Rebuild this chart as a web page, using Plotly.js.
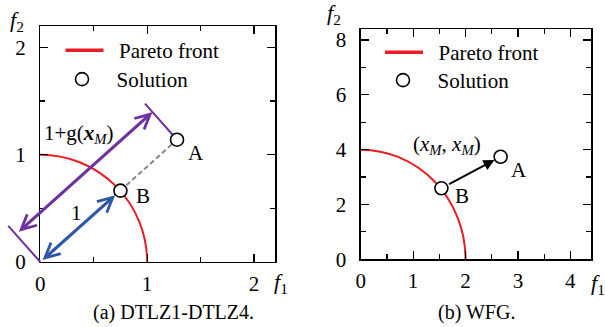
<!DOCTYPE html>
<html>
<head>
<meta charset="utf-8">
<script src="https://cdn.plot.ly/plotly-3.0.1.min.js"></script>
<style>html,body{margin:0;padding:0;background:#fff;}#chart{width:605px;height:327px;}</style>
</head>
<body>
<div id="chart"></div>
<script>
// ---- data ----
const frontRadiusA = [1, 1];          // DTLZ front radii (f1, f2)
const frontRadiusB = [2, 4];          // WFG front radii (f1, f2)
const solLabels = ['A', 'B'];
const solAx = [1.28, 0.75];
const solAy = [1.14, 0.665];
const solBx = [2.67, 1.54];
const solBy = [3.74, 2.59];
const legendNames = ['Pareto front', 'Solution'];
const ticksA = [0, 1, 2];
const ticksBx = [0, 1, 2, 3, 4];
const ticksBy = [0, 2, 4, 6, 8];

const RED = '#ec1c24', PURPLE = '#6f31a0', BLUE = '#2f57a8';
const FONT = 'Liberation Serif';
const PAD = '\u00a0\u00a0';

// geometry for the dimension line in panel (a)
const aLen = Math.hypot(solAx[0], solAy[0]);
const ux = solAx[0] / aLen, uy = solAy[0] / aLen;
const px = -uy, py = ux;
const barLen = 0.47, arrOff = 0.345;

const solMarker = {symbol: 'circle', size: 13, color: '#fff', line: {color: '#000', width: 1.6}};
const traces = [
  {x: [null], y: [null], mode: 'lines', line: {color: RED, width: 3.5}, name: PAD + legendNames[0], xaxis: 'x', yaxis: 'y', legend: 'legend'},
  {x: [null], y: [null], mode: 'markers', marker: solMarker, name: PAD + legendNames[1], xaxis: 'x', yaxis: 'y', legend: 'legend2'},
  {x: [null], y: [null], mode: 'lines', line: {color: RED, width: 3.5}, name: PAD + legendNames[0], xaxis: 'x2', yaxis: 'y2', legend: 'legend3'},
  {x: [null], y: [null], mode: 'markers', marker: solMarker, name: PAD + legendNames[1], xaxis: 'x2', yaxis: 'y2', legend: 'legend4'},
  // dashed B-A
  {x: [solAx[1], solAx[0]], y: [solAy[1], solAy[0]], mode: 'lines', line: {color: '#888', width: 2, dash: '5px,3px'}, xaxis: 'x', yaxis: 'y', showlegend: false},
  // solutions
  {x: solAx, y: solAy, mode: 'markers', marker: solMarker, xaxis: 'x', yaxis: 'y', showlegend: false},
  {x: solBx, y: solBy, mode: 'markers', marker: solMarker, xaxis: 'x2', yaxis: 'y2', showlegend: false}
];

function axis(range, tickvals, minorDtick, domain, anchor, standoff) {
  return {
    range: range, domain: domain, anchor: anchor,
    tickmode: 'array', tickvals: tickvals,
    ticks: 'inside', ticklen: 8, tickwidth: 1.2, tickcolor: '#000',
    minor: {ticks: 'inside', ticklen: 5, tickwidth: 1.2, tickcolor: '#000', dtick: minorDtick, tick0: 0},
    showline: true, linecolor: '#000', linewidth: 1.3, mirror: 'allticks',
    showgrid: false, zeroline: false, ticklabelstandoff: standoff,
    tickfont: {family: FONT, size: 21, color: '#000'}
  };
}

const ann = [];
function txt(x, y, text, size) {
  ann.push({x: x / 605, y: 1 - y / 327, xref: 'paper', yref: 'paper', text: text, showarrow: false,
            font: {family: FONT, size: size || 21, color: '#000'}, xanchor: 'center', yanchor: 'middle'});
}
function ptLabel(x, y, ax, text, dx, dy) {
  ann.push({x: x, y: y, xref: ax[0], yref: ax[1], text: text, showarrow: false, xshift: dx, yshift: dy,
            xanchor: 'center', yanchor: 'middle', font: {family: FONT, size: 21, color: '#000'}});
}
// axis titles
txt(17, 21, '<i>f</i><sub>2</sub>', 22);
txt(281, 283, '<i>f</i><sub>1</sub>', 22);
txt(334, 14, '<i>f</i><sub>2</sub>', 22);
txt(598, 284, '<i>f</i><sub>1</sub>', 22);
// captions
txt(174, 312, '(a) DTLZ1-DTLZ4.', 20);
txt(476, 312, '(b) WFG.', 20);
// point labels
ptLabel(solAx[0], solAy[0], ['x', 'y'], solLabels[0], 19, -13);
ptLabel(solAx[1], solAy[1], ['x', 'y'], solLabels[1], 23, -5);
ptLabel(solBx[0], solBy[0], ['x2', 'y2'], solLabels[0], 18, -13);
ptLabel(solBx[1], solBy[1], ['x2', 'y2'], solLabels[1], 21, -8);
// arrow labels
txt(79, 134, '1+g(<b><i>x</i></b><sub><i>M</i></sub>)', 21);
txt(77, 213, '1', 21);
txt(447, 145, '(<i>x</i><sub><i>M</i></sub>, <i>x</i><sub><i>M</i></sub>)', 21);
// dimension bars (no heads)
ann.push({xref: 'x', yref: 'y', axref: 'x', ayref: 'y', x: 0, y: 0, ax: px * barLen, ay: py * barLen, text: '', showarrow: true,
  arrowhead: 0, arrowwidth: 2, arrowcolor: PURPLE, standoff: 0});
ann.push({xref: 'x', yref: 'y', axref: 'x', ayref: 'y', x: solAx[0], y: solAy[0], ax: solAx[0] + px * barLen, ay: solAy[0] + py * barLen, text: '', showarrow: true,
  arrowhead: 0, arrowwidth: 2, arrowcolor: PURPLE, standoff: 7});
// purple double arrow
ann.push({xref: 'x', yref: 'y', axref: 'x', ayref: 'y',
  x: px * arrOff + ux * aLen, y: py * arrOff + uy * aLen,
  ax: px * arrOff, ay: py * arrOff, text: '', showarrow: true,
  arrowhead: 5, startarrowhead: 5, arrowside: 'end+start', arrowsize: 0.9, startarrowsize: 0.9, arrowwidth: 3.2, arrowcolor: PURPLE, standoff: 0, startstandoff: 2});
// blue double arrow O-B
ann.push({xref: 'x', yref: 'y', axref: 'x', ayref: 'y',
  x: solAx[1], y: solAy[1], ax: 0, ay: 0, text: '', showarrow: true,
  arrowhead: 5, startarrowhead: 5, arrowside: 'end+start', arrowsize: 0.9, startarrowsize: 0.9, arrowwidth: 3.2, arrowcolor: BLUE, standoff: 7, startstandoff: 1});
// black arrow B->A
ann.push({xref: 'x2', yref: 'y2', axref: 'x2', ayref: 'y2',
  x: solBx[0], y: solBy[0], ax: solBx[1], ay: solBy[1], text: '', showarrow: true,
  arrowhead: 2, arrowsize: 1.1, arrowwidth: 2, arrowcolor: '#000', standoff: 7, startstandoff: 7});

function leg(x, y) {
  return {x: x / 605, y: 1 - y / 327, xanchor: 'left', yanchor: 'top', bgcolor: 'rgba(0,0,0,0)', borderwidth: 0,
    font: {family: FONT, size: 21, color: '#000'}, itemwidth: 38, tracegroupgap: 0};
}

const layout = {
  width: 605, height: 327,
  margin: {l: 0, r: 0, t: 0, b: 0},
  paper_bgcolor: '#fff', plot_bgcolor: '#fff',
  font: {family: FONT, color: '#000'},
  xaxis: axis([0, 2.2], ticksA, 0.5, [40.3 / 605, 275.3 / 605], 'y', 2),
  yaxis: axis([0, 2.2], ticksA, 0.5, [1 - 262 / 327, 1 - 26 / 327], 'x', 9),
  xaxis2: axis([0, 4.4], ticksBx, 0.5, [360.7 / 605, 591.3 / 605], 'y2', 2),
  yaxis2: axis([0, 8.4], ticksBy, 1, [1 - 259.3 / 327, 1 - 29 / 327], 'x2', 9),
  showlegend: true,
  legend: leg(60.5, 30),
  legend2: leg(58, 59),
  legend3: leg(380, 32),
  legend4: leg(379, 60),
  shapes: [
    {type: 'circle', xref: 'x', yref: 'y', x0: -frontRadiusA[0], x1: frontRadiusA[0], y0: -frontRadiusA[1], y1: frontRadiusA[1], line: {color: RED, width: 2}, layer: 'below'},
    {type: 'circle', xref: 'x2', yref: 'y2', x0: -frontRadiusB[0], x1: frontRadiusB[0], y0: -frontRadiusB[1], y1: frontRadiusB[1], line: {color: RED, width: 2}, layer: 'below'}
  ],
  annotations: ann
};

function draw() { Plotly.newPlot('chart', traces, layout, {staticPlot: true}); }
if (document.fonts && document.fonts.load) {
  Promise.all([document.fonts.load('21px "Liberation Serif"'), document.fonts.load('italic 21px "Liberation Serif"'), document.fonts.load('bold italic 21px "Liberation Serif"')]).then(draw, draw);
} else { draw(); }
</script>
</body>
</html>
